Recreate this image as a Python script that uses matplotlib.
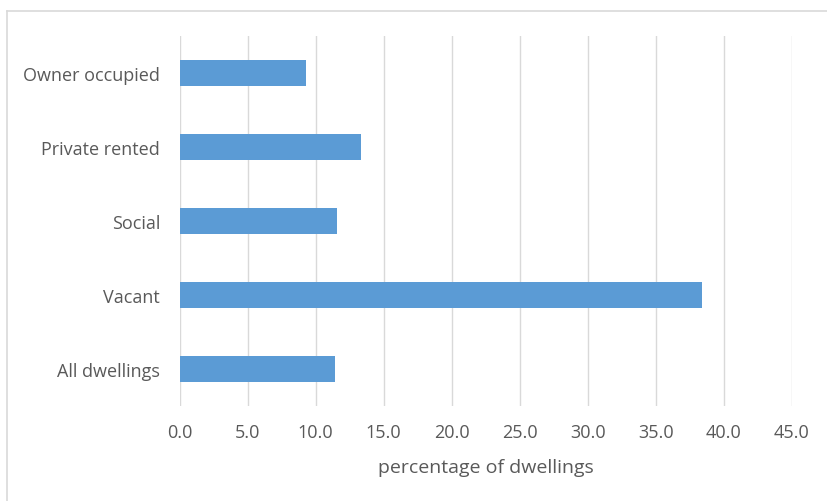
import matplotlib
matplotlib.use("Agg")
from matplotlib import pyplot as plt
from matplotlib.lines import Line2D

# share of dwellings by tenure, top to bottom
categories = ['Owner occupied', 'Private rented', 'Social', 'Vacant', 'All dwellings']
percentages = [9.3, 13.3, 11.6, 38.4, 11.4]
x_ticks = [0, 5, 10, 15, 20, 25, 30, 35, 40, 45]
x_tick_labels = [f'{t:.1f}' for t in x_ticks]

BAR_COLOR = '#5B9BD5'
GRID_COLOR = '#D9D9D9'
TEXT_COLOR = '#595959'

plt.rcParams['font.family'] = ['Open Sans', 'DejaVu Sans']

fig = plt.figure(figsize=(8.28, 5.02), dpi=100)
ax = fig.add_axes([0.2168, 0.1892, 0.7397, 0.737])

positions = list(range(len(categories)))[::-1]
ax.barh(positions, percentages, height=0.35, color=BAR_COLOR, zorder=3)

ax.set_xlim(0, 45)
ax.set_ylim(-0.5, len(categories) - 0.5)
ax.set_xticks(x_ticks)
ax.set_xticklabels(x_tick_labels)
ax.set_yticks(positions)
ax.set_yticklabels(categories)
ax.tick_params(axis='x', length=0, pad=12.5, labelsize=13, labelcolor=TEXT_COLOR)
ax.tick_params(axis='y', length=0, pad=14, labelsize=13, labelcolor=TEXT_COLOR)
ax.grid(axis='x', color=GRID_COLOR, linewidth=1, zorder=0)
for side in ax.spines.values():
    side.set_visible(False)

ax.set_xlabel('percentage of dwellings', fontsize=14, color=TEXT_COLOR, labelpad=12)

# chart area border (only left and top edges fall inside the image)
fig.add_artist(Line2D([7 / 828, 7 / 828], [0, 1 - 12 / 502], color='#D9D9D9', linewidth=1.2, transform=fig.transFigure))
fig.add_artist(Line2D([7 / 828, 1], [1 - 12 / 502, 1 - 12 / 502], color='#D9D9D9', linewidth=1.2, transform=fig.transFigure))

fig.savefig('out.png', dpi=100, facecolor='white')
